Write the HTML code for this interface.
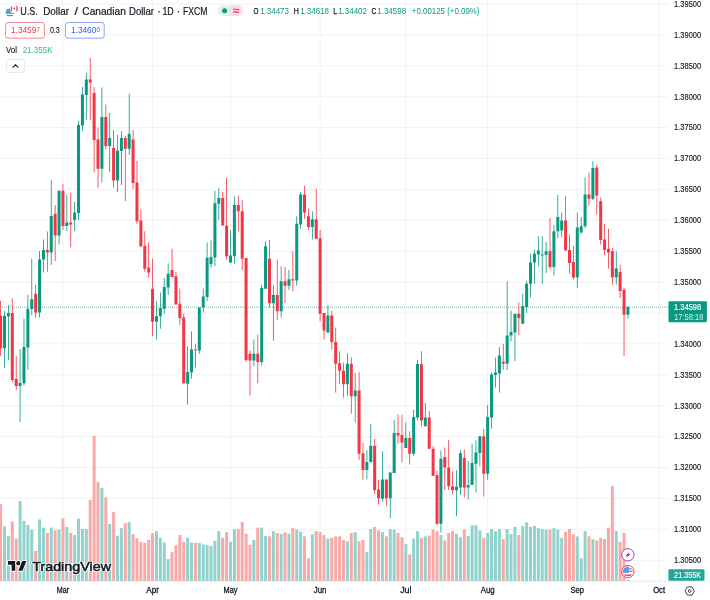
<!DOCTYPE html><html><head><meta charset="utf-8"><title>USDCAD chart</title>
<style>html,body{margin:0;padding:0;background:#fff;overflow:hidden}svg{display:block}text{font-family:"Liberation Sans",Arial,sans-serif}</style></head><body>
<svg width="710" height="600" viewBox="0 0 710 600">
<rect width="710" height="600" fill="#fff"/>
<g stroke="#f2f2f4" stroke-width="1" fill="none">
<line x1="0" y1="4.00" x2="668" y2="4.00"/>
<line x1="0" y1="34.90" x2="668" y2="34.90"/>
<line x1="0" y1="65.80" x2="668" y2="65.80"/>
<line x1="0" y1="96.70" x2="668" y2="96.70"/>
<line x1="0" y1="127.60" x2="668" y2="127.60"/>
<line x1="0" y1="158.50" x2="668" y2="158.50"/>
<line x1="0" y1="189.40" x2="668" y2="189.40"/>
<line x1="0" y1="220.30" x2="668" y2="220.30"/>
<line x1="0" y1="251.20" x2="668" y2="251.20"/>
<line x1="0" y1="282.10" x2="668" y2="282.10"/>
<line x1="0" y1="313.00" x2="668" y2="313.00"/>
<line x1="0" y1="343.90" x2="668" y2="343.90"/>
<line x1="0" y1="374.80" x2="668" y2="374.80"/>
<line x1="0" y1="405.70" x2="668" y2="405.70"/>
<line x1="0" y1="436.60" x2="668" y2="436.60"/>
<line x1="0" y1="467.50" x2="668" y2="467.50"/>
<line x1="0" y1="498.40" x2="668" y2="498.40"/>
<line x1="0" y1="529.30" x2="668" y2="529.30"/>
<line x1="0" y1="560.20" x2="668" y2="560.20"/>
<line x1="62.94" y1="0" x2="62.94" y2="581"/>
<line x1="152.56" y1="0" x2="152.56" y2="581"/>
<line x1="230.49" y1="0" x2="230.49" y2="581"/>
<line x1="320.11" y1="0" x2="320.11" y2="581"/>
<line x1="405.84" y1="0" x2="405.84" y2="581"/>
<line x1="487.66" y1="0" x2="487.66" y2="581"/>
<line x1="577.28" y1="0" x2="577.28" y2="581"/>
<line x1="659.11" y1="0" x2="659.11" y2="581"/>
</g>
<line x1="0" y1="581.2" x2="710" y2="581.2" stroke="#e9eaed" stroke-width="1"/>
<g>
<rect x="-0.90" y="504.20" width="3" height="76.80" fill="#f7a9a7"/>
<rect x="3.00" y="526.40" width="3" height="54.60" fill="#92d2cc"/>
<rect x="6.89" y="536.00" width="3" height="45.00" fill="#92d2cc"/>
<rect x="10.79" y="521.50" width="3" height="59.50" fill="#f7a9a7"/>
<rect x="14.69" y="538.60" width="3" height="42.40" fill="#f7a9a7"/>
<rect x="18.58" y="501.00" width="3" height="80.00" fill="#92d2cc"/>
<rect x="22.48" y="520.80" width="3" height="60.20" fill="#92d2cc"/>
<rect x="26.38" y="525.00" width="3" height="56.00" fill="#92d2cc"/>
<rect x="30.27" y="529.50" width="3" height="51.50" fill="#92d2cc"/>
<rect x="34.17" y="550.90" width="3" height="30.10" fill="#f7a9a7"/>
<rect x="38.07" y="519.40" width="3" height="61.60" fill="#92d2cc"/>
<rect x="41.96" y="527.60" width="3" height="53.40" fill="#92d2cc"/>
<rect x="45.86" y="533.00" width="3" height="48.00" fill="#f7a9a7"/>
<rect x="49.75" y="527.60" width="3" height="53.40" fill="#92d2cc"/>
<rect x="53.65" y="530.40" width="3" height="50.60" fill="#f7a9a7"/>
<rect x="57.55" y="529.50" width="3" height="51.50" fill="#92d2cc"/>
<rect x="61.44" y="518.50" width="3" height="62.50" fill="#f7a9a7"/>
<rect x="65.34" y="526.90" width="3" height="54.10" fill="#92d2cc"/>
<rect x="69.24" y="533.00" width="3" height="48.00" fill="#f7a9a7"/>
<rect x="73.13" y="535.10" width="3" height="45.90" fill="#92d2cc"/>
<rect x="77.03" y="518.50" width="3" height="62.50" fill="#92d2cc"/>
<rect x="80.93" y="529.00" width="3" height="52.00" fill="#92d2cc"/>
<rect x="84.82" y="529.00" width="3" height="52.00" fill="#92d2cc"/>
<rect x="88.72" y="500.10" width="3" height="80.90" fill="#f7a9a7"/>
<rect x="92.62" y="435.80" width="3" height="145.20" fill="#f7a9a7"/>
<rect x="96.51" y="482.20" width="3" height="98.80" fill="#f7a9a7"/>
<rect x="100.41" y="487.90" width="3" height="93.10" fill="#92d2cc"/>
<rect x="104.31" y="497.30" width="3" height="83.70" fill="#f7a9a7"/>
<rect x="108.20" y="524.00" width="3" height="57.00" fill="#92d2cc"/>
<rect x="112.10" y="511.90" width="3" height="69.10" fill="#f7a9a7"/>
<rect x="115.99" y="535.70" width="3" height="45.30" fill="#92d2cc"/>
<rect x="119.89" y="528.10" width="3" height="52.90" fill="#92d2cc"/>
<rect x="123.79" y="523.20" width="3" height="57.80" fill="#f7a9a7"/>
<rect x="127.68" y="522.00" width="3" height="59.00" fill="#92d2cc"/>
<rect x="131.58" y="534.30" width="3" height="46.70" fill="#f7a9a7"/>
<rect x="135.48" y="538.30" width="3" height="42.70" fill="#f7a9a7"/>
<rect x="139.37" y="541.80" width="3" height="39.20" fill="#f7a9a7"/>
<rect x="143.27" y="542.70" width="3" height="38.30" fill="#f7a9a7"/>
<rect x="147.17" y="539.90" width="3" height="41.10" fill="#f7a9a7"/>
<rect x="151.06" y="533.00" width="3" height="48.00" fill="#f7a9a7"/>
<rect x="154.96" y="531.10" width="3" height="49.90" fill="#92d2cc"/>
<rect x="158.86" y="537.80" width="3" height="43.20" fill="#92d2cc"/>
<rect x="162.75" y="542.50" width="3" height="38.50" fill="#92d2cc"/>
<rect x="166.65" y="559.10" width="3" height="21.90" fill="#92d2cc"/>
<rect x="170.55" y="552.10" width="3" height="28.90" fill="#f7a9a7"/>
<rect x="174.44" y="545.30" width="3" height="35.70" fill="#f7a9a7"/>
<rect x="178.34" y="535.10" width="3" height="45.90" fill="#f7a9a7"/>
<rect x="182.24" y="541.80" width="3" height="39.20" fill="#f7a9a7"/>
<rect x="186.13" y="537.80" width="3" height="43.20" fill="#92d2cc"/>
<rect x="190.03" y="542.50" width="3" height="38.50" fill="#92d2cc"/>
<rect x="193.93" y="542.50" width="3" height="38.50" fill="#f7a9a7"/>
<rect x="197.82" y="543.00" width="3" height="38.00" fill="#92d2cc"/>
<rect x="201.72" y="544.40" width="3" height="36.60" fill="#92d2cc"/>
<rect x="205.61" y="545.10" width="3" height="35.90" fill="#92d2cc"/>
<rect x="209.51" y="546.00" width="3" height="35.00" fill="#92d2cc"/>
<rect x="213.41" y="540.90" width="3" height="40.10" fill="#92d2cc"/>
<rect x="217.30" y="531.10" width="3" height="49.90" fill="#92d2cc"/>
<rect x="221.20" y="537.80" width="3" height="43.20" fill="#f7a9a7"/>
<rect x="225.10" y="532.20" width="3" height="48.80" fill="#f7a9a7"/>
<rect x="228.99" y="541.80" width="3" height="39.20" fill="#92d2cc"/>
<rect x="232.89" y="529.50" width="3" height="51.50" fill="#92d2cc"/>
<rect x="236.79" y="529.00" width="3" height="52.00" fill="#f7a9a7"/>
<rect x="240.68" y="522.00" width="3" height="59.00" fill="#f7a9a7"/>
<rect x="244.58" y="533.70" width="3" height="47.30" fill="#f7a9a7"/>
<rect x="248.48" y="544.80" width="3" height="36.20" fill="#f7a9a7"/>
<rect x="252.37" y="540.00" width="3" height="41.00" fill="#92d2cc"/>
<rect x="256.27" y="527.60" width="3" height="53.40" fill="#f7a9a7"/>
<rect x="260.17" y="527.60" width="3" height="53.40" fill="#92d2cc"/>
<rect x="264.06" y="536.00" width="3" height="45.00" fill="#92d2cc"/>
<rect x="267.96" y="536.40" width="3" height="44.60" fill="#f7a9a7"/>
<rect x="271.86" y="531.10" width="3" height="49.90" fill="#92d2cc"/>
<rect x="275.75" y="533.00" width="3" height="48.00" fill="#f7a9a7"/>
<rect x="279.65" y="533.90" width="3" height="47.10" fill="#92d2cc"/>
<rect x="283.54" y="532.20" width="3" height="48.80" fill="#f7a9a7"/>
<rect x="287.44" y="533.70" width="3" height="47.30" fill="#92d2cc"/>
<rect x="291.34" y="528.10" width="3" height="52.90" fill="#f7a9a7"/>
<rect x="295.23" y="529.50" width="3" height="51.50" fill="#92d2cc"/>
<rect x="299.13" y="531.60" width="3" height="49.40" fill="#92d2cc"/>
<rect x="303.03" y="536.40" width="3" height="44.60" fill="#f7a9a7"/>
<rect x="306.92" y="558.30" width="3" height="22.70" fill="#f7a9a7"/>
<rect x="310.82" y="534.30" width="3" height="46.70" fill="#92d2cc"/>
<rect x="314.72" y="531.10" width="3" height="49.90" fill="#f7a9a7"/>
<rect x="318.61" y="532.00" width="3" height="49.00" fill="#f7a9a7"/>
<rect x="322.51" y="535.10" width="3" height="45.90" fill="#f7a9a7"/>
<rect x="326.41" y="538.60" width="3" height="42.40" fill="#92d2cc"/>
<rect x="330.30" y="537.80" width="3" height="43.20" fill="#f7a9a7"/>
<rect x="334.20" y="536.40" width="3" height="44.60" fill="#f7a9a7"/>
<rect x="338.10" y="536.40" width="3" height="44.60" fill="#f7a9a7"/>
<rect x="341.99" y="540.00" width="3" height="41.00" fill="#f7a9a7"/>
<rect x="345.89" y="541.30" width="3" height="39.70" fill="#92d2cc"/>
<rect x="349.79" y="533.00" width="3" height="48.00" fill="#f7a9a7"/>
<rect x="353.68" y="532.20" width="3" height="48.80" fill="#92d2cc"/>
<rect x="357.58" y="541.30" width="3" height="39.70" fill="#f7a9a7"/>
<rect x="361.47" y="540.00" width="3" height="41.00" fill="#f7a9a7"/>
<rect x="365.37" y="552.10" width="3" height="28.90" fill="#92d2cc"/>
<rect x="369.27" y="529.00" width="3" height="52.00" fill="#92d2cc"/>
<rect x="373.16" y="526.90" width="3" height="54.10" fill="#f7a9a7"/>
<rect x="377.06" y="530.40" width="3" height="50.60" fill="#f7a9a7"/>
<rect x="380.96" y="532.20" width="3" height="48.80" fill="#92d2cc"/>
<rect x="384.85" y="536.40" width="3" height="44.60" fill="#f7a9a7"/>
<rect x="388.75" y="529.00" width="3" height="52.00" fill="#92d2cc"/>
<rect x="392.65" y="529.50" width="3" height="51.50" fill="#92d2cc"/>
<rect x="396.54" y="533.00" width="3" height="48.00" fill="#f7a9a7"/>
<rect x="400.44" y="537.20" width="3" height="43.80" fill="#f7a9a7"/>
<rect x="404.34" y="544.20" width="3" height="36.80" fill="#92d2cc"/>
<rect x="408.23" y="554.40" width="3" height="26.60" fill="#f7a9a7"/>
<rect x="412.13" y="538.60" width="3" height="42.40" fill="#92d2cc"/>
<rect x="416.03" y="531.10" width="3" height="49.90" fill="#92d2cc"/>
<rect x="419.92" y="538.10" width="3" height="42.90" fill="#f7a9a7"/>
<rect x="423.82" y="536.40" width="3" height="44.60" fill="#92d2cc"/>
<rect x="427.72" y="535.70" width="3" height="45.30" fill="#f7a9a7"/>
<rect x="431.61" y="529.50" width="3" height="51.50" fill="#f7a9a7"/>
<rect x="435.51" y="531.10" width="3" height="49.90" fill="#f7a9a7"/>
<rect x="439.40" y="535.10" width="3" height="45.90" fill="#92d2cc"/>
<rect x="443.30" y="540.40" width="3" height="40.60" fill="#f7a9a7"/>
<rect x="447.20" y="533.00" width="3" height="48.00" fill="#f7a9a7"/>
<rect x="451.09" y="531.10" width="3" height="49.90" fill="#f7a9a7"/>
<rect x="454.99" y="533.90" width="3" height="47.10" fill="#92d2cc"/>
<rect x="458.89" y="537.20" width="3" height="43.80" fill="#92d2cc"/>
<rect x="462.78" y="529.50" width="3" height="51.50" fill="#f7a9a7"/>
<rect x="466.68" y="536.00" width="3" height="45.00" fill="#92d2cc"/>
<rect x="470.58" y="525.20" width="3" height="55.80" fill="#92d2cc"/>
<rect x="474.47" y="525.20" width="3" height="55.80" fill="#92d2cc"/>
<rect x="478.37" y="530.40" width="3" height="50.60" fill="#92d2cc"/>
<rect x="482.27" y="537.80" width="3" height="43.20" fill="#f7a9a7"/>
<rect x="486.16" y="533.00" width="3" height="48.00" fill="#92d2cc"/>
<rect x="490.06" y="529.00" width="3" height="52.00" fill="#92d2cc"/>
<rect x="493.96" y="531.10" width="3" height="49.90" fill="#92d2cc"/>
<rect x="497.85" y="529.00" width="3" height="52.00" fill="#92d2cc"/>
<rect x="501.75" y="539.20" width="3" height="41.80" fill="#f7a9a7"/>
<rect x="505.65" y="529.00" width="3" height="52.00" fill="#92d2cc"/>
<rect x="509.54" y="533.90" width="3" height="47.10" fill="#92d2cc"/>
<rect x="513.44" y="526.90" width="3" height="54.10" fill="#92d2cc"/>
<rect x="517.33" y="535.10" width="3" height="45.90" fill="#f7a9a7"/>
<rect x="521.23" y="526.00" width="3" height="55.00" fill="#92d2cc"/>
<rect x="525.13" y="522.50" width="3" height="58.50" fill="#92d2cc"/>
<rect x="529.02" y="526.90" width="3" height="54.10" fill="#92d2cc"/>
<rect x="532.92" y="526.00" width="3" height="55.00" fill="#92d2cc"/>
<rect x="536.82" y="528.10" width="3" height="52.90" fill="#92d2cc"/>
<rect x="540.71" y="529.00" width="3" height="52.00" fill="#92d2cc"/>
<rect x="544.61" y="529.50" width="3" height="51.50" fill="#92d2cc"/>
<rect x="548.51" y="529.50" width="3" height="51.50" fill="#f7a9a7"/>
<rect x="552.40" y="528.10" width="3" height="52.90" fill="#92d2cc"/>
<rect x="556.30" y="529.50" width="3" height="51.50" fill="#92d2cc"/>
<rect x="560.20" y="537.80" width="3" height="43.20" fill="#92d2cc"/>
<rect x="564.09" y="531.60" width="3" height="49.40" fill="#f7a9a7"/>
<rect x="567.99" y="529.00" width="3" height="52.00" fill="#f7a9a7"/>
<rect x="571.89" y="534.30" width="3" height="46.70" fill="#f7a9a7"/>
<rect x="575.78" y="536.40" width="3" height="44.60" fill="#92d2cc"/>
<rect x="579.68" y="558.30" width="3" height="22.70" fill="#92d2cc"/>
<rect x="583.58" y="531.10" width="3" height="49.90" fill="#92d2cc"/>
<rect x="587.47" y="536.40" width="3" height="44.60" fill="#f7a9a7"/>
<rect x="591.37" y="539.20" width="3" height="41.80" fill="#92d2cc"/>
<rect x="595.26" y="540.40" width="3" height="40.60" fill="#f7a9a7"/>
<rect x="599.16" y="537.80" width="3" height="43.20" fill="#f7a9a7"/>
<rect x="603.06" y="539.00" width="3" height="42.00" fill="#f7a9a7"/>
<rect x="606.95" y="527.60" width="3" height="53.40" fill="#f7a9a7"/>
<rect x="610.85" y="486.10" width="3" height="94.90" fill="#f7a9a7"/>
<rect x="614.75" y="531.10" width="3" height="49.90" fill="#92d2cc"/>
<rect x="618.64" y="541.80" width="3" height="39.20" fill="#f7a9a7"/>
<rect x="622.54" y="533.00" width="3" height="48.00" fill="#f7a9a7"/>
<rect x="626.44" y="579.80" width="3" height="1.20" fill="#92d2cc"/>
</g>
<line x1="0" y1="307.2" x2="668.5" y2="307.2" stroke="#089981" stroke-width="0.9" stroke-dasharray="0.7 1.3"/>
<g>
<rect x="0.20" y="300.80" width="0.8" height="55.00" fill="#f23645"/>
<rect x="-0.90" y="315.80" width="3" height="32.50" fill="#f23645"/>
<rect x="4.10" y="311.00" width="0.8" height="57.00" fill="#089981"/>
<rect x="3.00" y="315.80" width="3" height="32.50" fill="#089981"/>
<rect x="7.99" y="305.00" width="0.8" height="55.00" fill="#089981"/>
<rect x="6.89" y="313.00" width="3" height="3.30" fill="#089981"/>
<rect x="11.89" y="298.30" width="0.8" height="83.50" fill="#f23645"/>
<rect x="10.79" y="313.00" width="3" height="67.00" fill="#f23645"/>
<rect x="15.79" y="356.00" width="0.8" height="34.00" fill="#f23645"/>
<rect x="14.69" y="379.00" width="3" height="7.00" fill="#f23645"/>
<rect x="19.68" y="349.00" width="0.8" height="73.00" fill="#089981"/>
<rect x="18.58" y="383.00" width="3" height="3.00" fill="#089981"/>
<rect x="23.58" y="318.80" width="0.8" height="66.50" fill="#089981"/>
<rect x="22.48" y="347.00" width="3" height="36.30" fill="#089981"/>
<rect x="27.48" y="294.80" width="0.8" height="75.00" fill="#089981"/>
<rect x="26.38" y="309.00" width="3" height="38.50" fill="#089981"/>
<rect x="31.37" y="258.75" width="0.8" height="56.25" fill="#089981"/>
<rect x="30.27" y="299.30" width="3" height="9.70" fill="#089981"/>
<rect x="35.27" y="285.00" width="0.8" height="32.50" fill="#f23645"/>
<rect x="34.17" y="293.75" width="3" height="18.75" fill="#f23645"/>
<rect x="39.17" y="251.00" width="0.8" height="66.50" fill="#089981"/>
<rect x="38.07" y="259.50" width="3" height="53.00" fill="#089981"/>
<rect x="43.06" y="239.50" width="0.8" height="33.00" fill="#089981"/>
<rect x="41.96" y="250.00" width="3" height="9.50" fill="#089981"/>
<rect x="46.96" y="231.50" width="0.8" height="40.20" fill="#f23645"/>
<rect x="45.86" y="250.00" width="3" height="2.50" fill="#f23645"/>
<rect x="50.85" y="180.00" width="0.8" height="85.00" fill="#089981"/>
<rect x="49.75" y="216.00" width="3" height="36.50" fill="#089981"/>
<rect x="54.75" y="205.00" width="0.8" height="56.00" fill="#f23645"/>
<rect x="53.65" y="213.75" width="3" height="21.75" fill="#f23645"/>
<rect x="58.65" y="190.50" width="0.8" height="54.00" fill="#089981"/>
<rect x="57.55" y="190.75" width="3" height="44.75" fill="#089981"/>
<rect x="62.54" y="183.75" width="0.8" height="46.25" fill="#f23645"/>
<rect x="61.44" y="190.75" width="3" height="35.25" fill="#f23645"/>
<rect x="66.44" y="195.00" width="0.8" height="36.00" fill="#089981"/>
<rect x="65.34" y="222.50" width="3" height="3.50" fill="#089981"/>
<rect x="70.34" y="192.50" width="0.8" height="55.00" fill="#f23645"/>
<rect x="69.24" y="222.50" width="3" height="2.00" fill="#f23645"/>
<rect x="74.23" y="202.00" width="0.8" height="29.00" fill="#089981"/>
<rect x="73.13" y="212.50" width="3" height="7.50" fill="#089981"/>
<rect x="78.13" y="120.75" width="0.8" height="99.25" fill="#089981"/>
<rect x="77.03" y="125.00" width="3" height="88.00" fill="#089981"/>
<rect x="82.03" y="87.00" width="0.8" height="44.00" fill="#089981"/>
<rect x="80.93" y="94.50" width="3" height="31.00" fill="#089981"/>
<rect x="85.92" y="73.00" width="0.8" height="47.00" fill="#089981"/>
<rect x="84.82" y="79.50" width="3" height="15.50" fill="#089981"/>
<rect x="89.82" y="58.00" width="0.8" height="62.00" fill="#f23645"/>
<rect x="88.72" y="79.50" width="3" height="3.00" fill="#f23645"/>
<rect x="93.72" y="87.00" width="0.8" height="85.50" fill="#f23645"/>
<rect x="92.62" y="93.00" width="3" height="47.00" fill="#f23645"/>
<rect x="97.61" y="127.50" width="0.8" height="60.50" fill="#f23645"/>
<rect x="96.51" y="139.50" width="3" height="29.25" fill="#f23645"/>
<rect x="101.51" y="87.50" width="0.8" height="95.00" fill="#089981"/>
<rect x="100.41" y="117.00" width="3" height="51.75" fill="#089981"/>
<rect x="105.41" y="104.50" width="0.8" height="45.00" fill="#f23645"/>
<rect x="104.31" y="117.00" width="3" height="29.00" fill="#f23645"/>
<rect x="109.30" y="113.00" width="0.8" height="59.00" fill="#089981"/>
<rect x="108.20" y="138.00" width="3" height="8.00" fill="#089981"/>
<rect x="113.20" y="130.00" width="0.8" height="57.50" fill="#f23645"/>
<rect x="112.10" y="148.00" width="3" height="32.50" fill="#f23645"/>
<rect x="117.09" y="135.00" width="0.8" height="57.00" fill="#089981"/>
<rect x="115.99" y="150.75" width="3" height="29.75" fill="#089981"/>
<rect x="120.99" y="131.00" width="0.8" height="54.00" fill="#089981"/>
<rect x="119.89" y="138.00" width="3" height="13.00" fill="#089981"/>
<rect x="124.89" y="136.00" width="0.8" height="65.25" fill="#f23645"/>
<rect x="123.79" y="138.00" width="3" height="10.75" fill="#f23645"/>
<rect x="128.78" y="93.75" width="0.8" height="61.25" fill="#089981"/>
<rect x="127.68" y="133.75" width="3" height="15.00" fill="#089981"/>
<rect x="132.68" y="130.00" width="0.8" height="58.75" fill="#f23645"/>
<rect x="131.58" y="139.50" width="3" height="43.50" fill="#f23645"/>
<rect x="136.58" y="161.00" width="0.8" height="62.75" fill="#f23645"/>
<rect x="135.48" y="182.50" width="3" height="38.75" fill="#f23645"/>
<rect x="140.47" y="209.50" width="0.8" height="38.00" fill="#f23645"/>
<rect x="139.37" y="220.50" width="3" height="25.75" fill="#f23645"/>
<rect x="144.37" y="231.25" width="0.8" height="40.50" fill="#f23645"/>
<rect x="143.27" y="245.75" width="3" height="23.00" fill="#f23645"/>
<rect x="148.27" y="242.50" width="0.8" height="35.00" fill="#f23645"/>
<rect x="147.17" y="267.50" width="3" height="5.00" fill="#f23645"/>
<rect x="152.16" y="258.75" width="0.8" height="77.50" fill="#f23645"/>
<rect x="151.06" y="288.75" width="3" height="33.00" fill="#f23645"/>
<rect x="156.06" y="301.25" width="0.8" height="38.25" fill="#089981"/>
<rect x="154.96" y="316.25" width="3" height="5.50" fill="#089981"/>
<rect x="159.96" y="292.50" width="0.8" height="36.25" fill="#089981"/>
<rect x="158.86" y="308.00" width="3" height="8.25" fill="#089981"/>
<rect x="163.85" y="278.00" width="0.8" height="35.75" fill="#089981"/>
<rect x="162.75" y="287.00" width="3" height="21.75" fill="#089981"/>
<rect x="167.75" y="263.25" width="0.8" height="31.75" fill="#089981"/>
<rect x="166.65" y="273.75" width="3" height="13.75" fill="#089981"/>
<rect x="171.65" y="248.75" width="0.8" height="28.25" fill="#f23645"/>
<rect x="170.55" y="270.00" width="3" height="7.00" fill="#f23645"/>
<rect x="175.54" y="272.00" width="0.8" height="32.50" fill="#f23645"/>
<rect x="174.44" y="276.25" width="3" height="28.25" fill="#f23645"/>
<rect x="179.44" y="288.50" width="0.8" height="36.50" fill="#f23645"/>
<rect x="178.34" y="303.75" width="3" height="14.25" fill="#f23645"/>
<rect x="183.34" y="313.75" width="0.8" height="70.00" fill="#f23645"/>
<rect x="182.24" y="317.50" width="3" height="65.75" fill="#f23645"/>
<rect x="187.23" y="346.25" width="0.8" height="58.25" fill="#089981"/>
<rect x="186.13" y="372.00" width="3" height="11.75" fill="#089981"/>
<rect x="191.13" y="331.25" width="0.8" height="47.50" fill="#089981"/>
<rect x="190.03" y="349.50" width="3" height="23.00" fill="#089981"/>
<rect x="195.03" y="343.75" width="0.8" height="23.75" fill="#f23645"/>
<rect x="193.93" y="349.50" width="3" height="1.00" fill="#f23645"/>
<rect x="198.92" y="307.50" width="0.8" height="46.25" fill="#089981"/>
<rect x="197.82" y="307.50" width="3" height="43.00" fill="#089981"/>
<rect x="202.82" y="288.50" width="0.8" height="24.00" fill="#089981"/>
<rect x="201.72" y="296.50" width="3" height="11.00" fill="#089981"/>
<rect x="206.71" y="242.50" width="0.8" height="58.75" fill="#089981"/>
<rect x="205.61" y="257.75" width="3" height="39.25" fill="#089981"/>
<rect x="210.61" y="240.50" width="0.8" height="27.00" fill="#089981"/>
<rect x="209.51" y="257.00" width="3" height="7.00" fill="#089981"/>
<rect x="214.51" y="190.75" width="0.8" height="75.50" fill="#089981"/>
<rect x="213.41" y="203.25" width="3" height="54.25" fill="#089981"/>
<rect x="218.40" y="188.25" width="0.8" height="31.75" fill="#089981"/>
<rect x="217.30" y="198.00" width="3" height="5.75" fill="#089981"/>
<rect x="222.30" y="192.00" width="0.8" height="33.50" fill="#f23645"/>
<rect x="221.20" y="198.00" width="3" height="27.50" fill="#f23645"/>
<rect x="226.20" y="178.00" width="0.8" height="81.50" fill="#f23645"/>
<rect x="225.10" y="225.50" width="3" height="30.75" fill="#f23645"/>
<rect x="230.09" y="230.00" width="0.8" height="33.00" fill="#089981"/>
<rect x="228.99" y="255.50" width="3" height="7.00" fill="#089981"/>
<rect x="233.99" y="196.25" width="0.8" height="67.50" fill="#089981"/>
<rect x="232.89" y="205.00" width="3" height="51.25" fill="#089981"/>
<rect x="237.89" y="195.50" width="0.8" height="35.75" fill="#f23645"/>
<rect x="236.79" y="205.00" width="3" height="6.25" fill="#f23645"/>
<rect x="241.78" y="200.00" width="0.8" height="70.00" fill="#f23645"/>
<rect x="240.68" y="211.25" width="3" height="47.50" fill="#f23645"/>
<rect x="245.68" y="258.00" width="0.8" height="104.00" fill="#f23645"/>
<rect x="244.58" y="258.00" width="3" height="102.00" fill="#f23645"/>
<rect x="249.58" y="350.50" width="0.8" height="45.00" fill="#f23645"/>
<rect x="248.48" y="353.75" width="3" height="6.75" fill="#f23645"/>
<rect x="253.47" y="339.50" width="0.8" height="26.75" fill="#089981"/>
<rect x="252.37" y="353.75" width="3" height="6.75" fill="#089981"/>
<rect x="257.37" y="334.50" width="0.8" height="48.75" fill="#f23645"/>
<rect x="256.27" y="353.75" width="3" height="8.25" fill="#f23645"/>
<rect x="261.27" y="284.75" width="0.8" height="80.75" fill="#089981"/>
<rect x="260.17" y="288.00" width="3" height="74.00" fill="#089981"/>
<rect x="265.16" y="241.25" width="0.8" height="47.50" fill="#089981"/>
<rect x="264.06" y="246.25" width="3" height="42.50" fill="#089981"/>
<rect x="269.06" y="240.00" width="0.8" height="67.50" fill="#f23645"/>
<rect x="267.96" y="258.75" width="3" height="44.50" fill="#f23645"/>
<rect x="272.96" y="285.50" width="0.8" height="55.25" fill="#089981"/>
<rect x="271.86" y="295.00" width="3" height="8.25" fill="#089981"/>
<rect x="276.85" y="259.50" width="0.8" height="60.50" fill="#f23645"/>
<rect x="275.75" y="295.00" width="3" height="16.25" fill="#f23645"/>
<rect x="280.75" y="266.25" width="0.8" height="51.25" fill="#089981"/>
<rect x="279.65" y="281.25" width="3" height="30.00" fill="#089981"/>
<rect x="284.64" y="267.00" width="0.8" height="36.00" fill="#f23645"/>
<rect x="283.54" y="281.25" width="3" height="4.50" fill="#f23645"/>
<rect x="288.54" y="270.00" width="0.8" height="20.00" fill="#089981"/>
<rect x="287.44" y="279.25" width="3" height="6.50" fill="#089981"/>
<rect x="292.44" y="251.25" width="0.8" height="40.00" fill="#f23645"/>
<rect x="291.34" y="279.25" width="3" height="1.25" fill="#f23645"/>
<rect x="296.33" y="216.25" width="0.8" height="69.25" fill="#089981"/>
<rect x="295.23" y="223.75" width="3" height="56.75" fill="#089981"/>
<rect x="300.23" y="192.00" width="0.8" height="36.75" fill="#089981"/>
<rect x="299.13" y="194.50" width="3" height="30.00" fill="#089981"/>
<rect x="304.13" y="185.75" width="0.8" height="33.00" fill="#f23645"/>
<rect x="303.03" y="194.50" width="3" height="18.00" fill="#f23645"/>
<rect x="308.02" y="208.75" width="0.8" height="21.25" fill="#f23645"/>
<rect x="306.92" y="216.25" width="3" height="10.75" fill="#f23645"/>
<rect x="311.92" y="211.25" width="0.8" height="28.25" fill="#089981"/>
<rect x="310.82" y="219.25" width="3" height="7.75" fill="#089981"/>
<rect x="315.82" y="188.75" width="0.8" height="50.00" fill="#f23645"/>
<rect x="314.72" y="219.25" width="3" height="19.50" fill="#f23645"/>
<rect x="319.71" y="230.00" width="0.8" height="91.25" fill="#f23645"/>
<rect x="318.61" y="238.25" width="3" height="75.50" fill="#f23645"/>
<rect x="323.61" y="313.00" width="0.8" height="26.50" fill="#f23645"/>
<rect x="322.51" y="313.00" width="3" height="17.50" fill="#f23645"/>
<rect x="327.51" y="305.00" width="0.8" height="27.50" fill="#089981"/>
<rect x="326.41" y="315.50" width="3" height="17.00" fill="#089981"/>
<rect x="331.40" y="311.00" width="0.8" height="38.50" fill="#f23645"/>
<rect x="330.30" y="315.50" width="3" height="26.50" fill="#f23645"/>
<rect x="335.30" y="327.50" width="0.8" height="65.00" fill="#f23645"/>
<rect x="334.20" y="342.00" width="3" height="21.75" fill="#f23645"/>
<rect x="339.20" y="351.25" width="0.8" height="32.50" fill="#f23645"/>
<rect x="338.10" y="363.25" width="3" height="7.50" fill="#f23645"/>
<rect x="343.09" y="362.50" width="0.8" height="35.00" fill="#f23645"/>
<rect x="341.99" y="370.75" width="3" height="13.50" fill="#f23645"/>
<rect x="346.99" y="353.25" width="0.8" height="42.50" fill="#089981"/>
<rect x="345.89" y="363.75" width="3" height="20.50" fill="#089981"/>
<rect x="350.89" y="357.50" width="0.8" height="56.25" fill="#f23645"/>
<rect x="349.79" y="363.75" width="3" height="32.50" fill="#f23645"/>
<rect x="354.78" y="373.00" width="0.8" height="49.50" fill="#089981"/>
<rect x="353.68" y="390.50" width="3" height="5.75" fill="#089981"/>
<rect x="358.68" y="372.00" width="0.8" height="88.00" fill="#f23645"/>
<rect x="357.58" y="390.50" width="3" height="63.25" fill="#f23645"/>
<rect x="362.57" y="443.00" width="0.8" height="37.00" fill="#f23645"/>
<rect x="361.47" y="453.25" width="3" height="16.75" fill="#f23645"/>
<rect x="366.47" y="450.00" width="0.8" height="29.50" fill="#089981"/>
<rect x="365.37" y="462.00" width="3" height="8.00" fill="#089981"/>
<rect x="370.37" y="423.75" width="0.8" height="38.75" fill="#089981"/>
<rect x="369.27" y="445.75" width="3" height="16.25" fill="#089981"/>
<rect x="374.26" y="438.75" width="0.8" height="55.00" fill="#f23645"/>
<rect x="373.16" y="445.75" width="3" height="44.25" fill="#f23645"/>
<rect x="378.16" y="480.00" width="0.8" height="24.50" fill="#f23645"/>
<rect x="377.06" y="489.50" width="3" height="8.75" fill="#f23645"/>
<rect x="382.06" y="451.25" width="0.8" height="50.75" fill="#089981"/>
<rect x="380.96" y="479.50" width="3" height="19.25" fill="#089981"/>
<rect x="385.95" y="479.50" width="0.8" height="26.75" fill="#f23645"/>
<rect x="384.85" y="479.50" width="3" height="18.75" fill="#f23645"/>
<rect x="389.85" y="472.50" width="0.8" height="45.75" fill="#089981"/>
<rect x="388.75" y="472.50" width="3" height="25.75" fill="#089981"/>
<rect x="393.75" y="420.00" width="0.8" height="53.00" fill="#089981"/>
<rect x="392.65" y="433.00" width="3" height="40.00" fill="#089981"/>
<rect x="397.64" y="414.50" width="0.8" height="29.00" fill="#f23645"/>
<rect x="396.54" y="433.00" width="3" height="2.50" fill="#f23645"/>
<rect x="401.54" y="414.75" width="0.8" height="47.75" fill="#f23645"/>
<rect x="400.44" y="435.00" width="3" height="7.50" fill="#f23645"/>
<rect x="405.44" y="422.25" width="0.8" height="25.75" fill="#089981"/>
<rect x="404.34" y="438.00" width="3" height="10.00" fill="#089981"/>
<rect x="409.33" y="431.25" width="0.8" height="33.25" fill="#f23645"/>
<rect x="408.23" y="438.00" width="3" height="15.75" fill="#f23645"/>
<rect x="413.23" y="409.75" width="0.8" height="46.25" fill="#089981"/>
<rect x="412.13" y="417.00" width="3" height="36.75" fill="#089981"/>
<rect x="417.13" y="360.00" width="0.8" height="60.50" fill="#089981"/>
<rect x="416.03" y="364.00" width="3" height="53.50" fill="#089981"/>
<rect x="421.02" y="351.25" width="0.8" height="75.00" fill="#f23645"/>
<rect x="419.92" y="364.25" width="3" height="56.25" fill="#f23645"/>
<rect x="424.92" y="403.00" width="0.8" height="23.25" fill="#089981"/>
<rect x="423.82" y="417.50" width="3" height="8.75" fill="#089981"/>
<rect x="428.82" y="411.25" width="0.8" height="37.50" fill="#f23645"/>
<rect x="427.72" y="417.50" width="3" height="31.25" fill="#f23645"/>
<rect x="432.71" y="446.00" width="0.8" height="29.75" fill="#f23645"/>
<rect x="431.61" y="448.75" width="3" height="27.00" fill="#f23645"/>
<rect x="436.61" y="471.00" width="0.8" height="54.00" fill="#f23645"/>
<rect x="435.51" y="475.00" width="3" height="48.75" fill="#f23645"/>
<rect x="440.50" y="450.50" width="0.8" height="82.00" fill="#089981"/>
<rect x="439.40" y="458.75" width="3" height="65.00" fill="#089981"/>
<rect x="444.40" y="447.50" width="0.8" height="42.50" fill="#f23645"/>
<rect x="443.30" y="457.00" width="3" height="10.50" fill="#f23645"/>
<rect x="448.30" y="440.00" width="0.8" height="50.00" fill="#f23645"/>
<rect x="447.20" y="467.50" width="3" height="18.75" fill="#f23645"/>
<rect x="452.19" y="471.25" width="0.8" height="23.00" fill="#f23645"/>
<rect x="451.09" y="486.25" width="3" height="4.00" fill="#f23645"/>
<rect x="456.09" y="470.25" width="0.8" height="46.00" fill="#089981"/>
<rect x="454.99" y="486.75" width="3" height="3.50" fill="#089981"/>
<rect x="459.99" y="450.00" width="0.8" height="45.00" fill="#089981"/>
<rect x="458.89" y="453.25" width="3" height="34.25" fill="#089981"/>
<rect x="463.88" y="449.50" width="0.8" height="48.00" fill="#f23645"/>
<rect x="462.78" y="458.00" width="3" height="29.50" fill="#f23645"/>
<rect x="467.78" y="461.25" width="0.8" height="38.25" fill="#089981"/>
<rect x="466.68" y="485.00" width="3" height="2.50" fill="#089981"/>
<rect x="471.68" y="443.75" width="0.8" height="41.25" fill="#089981"/>
<rect x="470.58" y="463.00" width="3" height="22.00" fill="#089981"/>
<rect x="475.57" y="440.25" width="0.8" height="52.25" fill="#089981"/>
<rect x="474.47" y="452.50" width="3" height="11.25" fill="#089981"/>
<rect x="479.47" y="436.25" width="0.8" height="30.00" fill="#089981"/>
<rect x="478.37" y="436.25" width="3" height="16.75" fill="#089981"/>
<rect x="483.37" y="428.75" width="0.8" height="67.75" fill="#f23645"/>
<rect x="482.27" y="436.25" width="3" height="37.50" fill="#f23645"/>
<rect x="487.26" y="405.00" width="0.8" height="74.75" fill="#089981"/>
<rect x="486.16" y="417.00" width="3" height="56.75" fill="#089981"/>
<rect x="491.16" y="372.50" width="0.8" height="56.25" fill="#089981"/>
<rect x="490.06" y="374.50" width="3" height="43.00" fill="#089981"/>
<rect x="495.06" y="357.50" width="0.8" height="30.00" fill="#089981"/>
<rect x="493.96" y="372.50" width="3" height="2.50" fill="#089981"/>
<rect x="498.95" y="347.00" width="0.8" height="45.50" fill="#089981"/>
<rect x="497.85" y="355.50" width="3" height="18.00" fill="#089981"/>
<rect x="502.85" y="343.75" width="0.8" height="26.25" fill="#f23645"/>
<rect x="501.75" y="361.75" width="3" height="2.00" fill="#f23645"/>
<rect x="506.75" y="281.25" width="0.8" height="88.75" fill="#089981"/>
<rect x="505.65" y="335.50" width="3" height="28.25" fill="#089981"/>
<rect x="510.64" y="310.75" width="0.8" height="30.50" fill="#089981"/>
<rect x="509.54" y="332.00" width="3" height="3.50" fill="#089981"/>
<rect x="514.54" y="313.75" width="0.8" height="47.50" fill="#089981"/>
<rect x="513.44" y="313.75" width="3" height="18.75" fill="#089981"/>
<rect x="518.43" y="302.50" width="0.8" height="32.50" fill="#f23645"/>
<rect x="517.33" y="313.75" width="3" height="4.25" fill="#f23645"/>
<rect x="522.33" y="293.75" width="0.8" height="30.00" fill="#089981"/>
<rect x="521.23" y="306.25" width="3" height="17.50" fill="#089981"/>
<rect x="526.23" y="281.25" width="0.8" height="31.75" fill="#089981"/>
<rect x="525.13" y="283.75" width="3" height="23.25" fill="#089981"/>
<rect x="530.12" y="253.75" width="0.8" height="43.75" fill="#089981"/>
<rect x="529.02" y="262.50" width="3" height="21.25" fill="#089981"/>
<rect x="534.02" y="249.50" width="0.8" height="34.25" fill="#089981"/>
<rect x="532.92" y="253.75" width="3" height="8.75" fill="#089981"/>
<rect x="537.92" y="236.25" width="0.8" height="30.25" fill="#089981"/>
<rect x="536.82" y="250.50" width="3" height="4.00" fill="#089981"/>
<rect x="541.81" y="236.25" width="0.8" height="47.50" fill="#089981"/>
<rect x="540.71" y="254.50" width="3" height="1.00" fill="#089981"/>
<rect x="545.71" y="242.00" width="0.8" height="31.00" fill="#089981"/>
<rect x="544.61" y="251.25" width="3" height="3.50" fill="#089981"/>
<rect x="549.61" y="218.00" width="0.8" height="51.00" fill="#f23645"/>
<rect x="548.51" y="251.25" width="3" height="15.75" fill="#f23645"/>
<rect x="553.50" y="225.00" width="0.8" height="50.50" fill="#089981"/>
<rect x="552.40" y="231.25" width="3" height="35.75" fill="#089981"/>
<rect x="557.40" y="195.00" width="0.8" height="43.00" fill="#089981"/>
<rect x="556.30" y="217.00" width="3" height="14.25" fill="#089981"/>
<rect x="561.30" y="212.50" width="0.8" height="25.00" fill="#089981"/>
<rect x="560.20" y="220.50" width="3" height="10.00" fill="#089981"/>
<rect x="565.19" y="196.25" width="0.8" height="54.25" fill="#f23645"/>
<rect x="564.09" y="220.50" width="3" height="30.00" fill="#f23645"/>
<rect x="569.09" y="234.50" width="0.8" height="39.25" fill="#f23645"/>
<rect x="567.99" y="250.00" width="3" height="13.00" fill="#f23645"/>
<rect x="572.99" y="246.00" width="0.8" height="33.50" fill="#f23645"/>
<rect x="571.89" y="262.00" width="3" height="15.50" fill="#f23645"/>
<rect x="576.88" y="212.50" width="0.8" height="75.50" fill="#089981"/>
<rect x="575.78" y="227.50" width="3" height="50.00" fill="#089981"/>
<rect x="580.78" y="217.00" width="0.8" height="16.75" fill="#089981"/>
<rect x="579.68" y="226.25" width="3" height="6.25" fill="#089981"/>
<rect x="584.68" y="177.50" width="0.8" height="50.50" fill="#089981"/>
<rect x="583.58" y="194.50" width="3" height="31.75" fill="#089981"/>
<rect x="588.57" y="172.50" width="0.8" height="33.00" fill="#f23645"/>
<rect x="587.47" y="194.50" width="3" height="4.25" fill="#f23645"/>
<rect x="592.47" y="161.25" width="0.8" height="38.75" fill="#089981"/>
<rect x="591.37" y="168.00" width="3" height="30.75" fill="#089981"/>
<rect x="596.36" y="164.50" width="0.8" height="50.00" fill="#f23645"/>
<rect x="595.26" y="167.50" width="3" height="28.00" fill="#f23645"/>
<rect x="600.26" y="197.50" width="0.8" height="47.00" fill="#f23645"/>
<rect x="599.16" y="201.25" width="3" height="38.75" fill="#f23645"/>
<rect x="604.16" y="223.75" width="0.8" height="31.25" fill="#f23645"/>
<rect x="603.06" y="239.50" width="3" height="10.50" fill="#f23645"/>
<rect x="608.05" y="228.75" width="0.8" height="39.75" fill="#f23645"/>
<rect x="606.95" y="248.75" width="3" height="3.75" fill="#f23645"/>
<rect x="611.95" y="248.00" width="0.8" height="37.00" fill="#f23645"/>
<rect x="610.85" y="251.25" width="3" height="26.15" fill="#f23645"/>
<rect x="615.85" y="251.25" width="0.8" height="33.25" fill="#089981"/>
<rect x="614.75" y="268.30" width="3" height="9.10" fill="#089981"/>
<rect x="619.74" y="264.60" width="0.8" height="33.40" fill="#f23645"/>
<rect x="618.64" y="272.00" width="3" height="19.00" fill="#f23645"/>
<rect x="623.64" y="287.60" width="0.8" height="68.40" fill="#f23645"/>
<rect x="622.54" y="289.80" width="3" height="24.90" fill="#f23645"/>
<rect x="627.54" y="305.70" width="0.8" height="12.80" fill="#089981"/>
<rect x="626.44" y="307.00" width="3" height="7.70" fill="#089981"/>
</g>
<g fill="#131722" font-size="9" stroke="#131722" stroke-width="0.15">
<text x="674.1" y="6.80" textLength="27" lengthAdjust="spacingAndGlyphs">1.39500</text>
<text x="674.1" y="37.70" textLength="27" lengthAdjust="spacingAndGlyphs">1.39000</text>
<text x="674.1" y="68.60" textLength="27" lengthAdjust="spacingAndGlyphs">1.38500</text>
<text x="674.1" y="99.50" textLength="27" lengthAdjust="spacingAndGlyphs">1.38000</text>
<text x="674.1" y="130.40" textLength="27" lengthAdjust="spacingAndGlyphs">1.37500</text>
<text x="674.1" y="161.30" textLength="27" lengthAdjust="spacingAndGlyphs">1.37000</text>
<text x="674.1" y="192.20" textLength="27" lengthAdjust="spacingAndGlyphs">1.36500</text>
<text x="674.1" y="223.10" textLength="27" lengthAdjust="spacingAndGlyphs">1.36000</text>
<text x="674.1" y="254.00" textLength="27" lengthAdjust="spacingAndGlyphs">1.35500</text>
<text x="674.1" y="284.90" textLength="27" lengthAdjust="spacingAndGlyphs">1.35000</text>
<text x="674.1" y="315.80" textLength="27" lengthAdjust="spacingAndGlyphs">1.34500</text>
<text x="674.1" y="346.70" textLength="27" lengthAdjust="spacingAndGlyphs">1.34000</text>
<text x="674.1" y="377.60" textLength="27" lengthAdjust="spacingAndGlyphs">1.33500</text>
<text x="674.1" y="408.50" textLength="27" lengthAdjust="spacingAndGlyphs">1.33000</text>
<text x="674.1" y="439.40" textLength="27" lengthAdjust="spacingAndGlyphs">1.32500</text>
<text x="674.1" y="470.30" textLength="27" lengthAdjust="spacingAndGlyphs">1.32000</text>
<text x="674.1" y="501.20" textLength="27" lengthAdjust="spacingAndGlyphs">1.31500</text>
<text x="674.1" y="532.10" textLength="27" lengthAdjust="spacingAndGlyphs">1.31000</text>
<text x="674.1" y="563.00" textLength="27" lengthAdjust="spacingAndGlyphs">1.30500</text>
</g>
<rect x="668.5" y="301.2" width="38.4" height="21.1" rx="1.2" fill="#089981"/>
<text x="674.1" y="310.1" font-size="9" fill="#fff" stroke="#fff" stroke-width="0.15" textLength="27" lengthAdjust="spacingAndGlyphs">1.34598</text>
<text x="674.1" y="319.7" font-size="9" fill="#d9f0eb" textLength="29.3" lengthAdjust="spacingAndGlyphs">17:58:18</text>
<rect x="668.4" y="569.3" width="36.1" height="11.4" rx="1.2" fill="#26a69a"/>
<text x="674.1" y="577.8" font-size="9" fill="#fff" stroke="#fff" stroke-width="0.15" textLength="27" lengthAdjust="spacingAndGlyphs">21.355K</text>
<g fill="#131722" font-size="9" text-anchor="middle" stroke="#131722" stroke-width="0.3">
<text x="62.94" y="592.5" textLength="12.3" lengthAdjust="spacingAndGlyphs">Mar</text>
<text x="152.56" y="592.5" textLength="12.7" lengthAdjust="spacingAndGlyphs">Apr</text>
<text x="230.49" y="592.5" textLength="13.9" lengthAdjust="spacingAndGlyphs">May</text>
<text x="320.11" y="592.5" textLength="12.7" lengthAdjust="spacingAndGlyphs">Jun</text>
<text x="405.84" y="592.5" textLength="11.4" lengthAdjust="spacingAndGlyphs">Jul</text>
<text x="487.66" y="592.5" textLength="13.9" lengthAdjust="spacingAndGlyphs">Aug</text>
<text x="577.28" y="592.5" textLength="13.5" lengthAdjust="spacingAndGlyphs">Sep</text>
<text x="659.11" y="592.5" textLength="11.8" lengthAdjust="spacingAndGlyphs">Oct</text>
</g>
<polygon points="694.40,591.00 692.05,595.07 687.35,595.07 685.00,591.00 687.35,586.93 692.05,586.93" fill="none" stroke="#131722" stroke-width="0.8"/>
<circle cx="689.7" cy="591" r="1.4" fill="none" stroke="#131722" stroke-width="0.8"/>
<circle cx="627.9" cy="554.8" r="6.2" fill="#fff" stroke="#9c27b0" stroke-width="0.9"/>
<path d="M630.3 551.3 L625.3 555.7 L627.6 555.7 L625.6 558.6 L630.6 554.1 L628.3 554.1 Z" fill="#9c27b0"/>
<circle cx="627.9" cy="571.6" r="6.2" fill="#fff" stroke="#f23645" stroke-width="0.9"/>
<clipPath id="fc"><circle cx="627.9" cy="571.6" r="5"/></clipPath>
<g clip-path="url(#fc)"><rect x="622" y="566" width="12" height="12" fill="#fff"/>
<rect x="622" y="568.30" width="12" height="1.00" fill="#f2505c"/>
<rect x="622" y="570.60" width="12" height="1.20" fill="#f2505c"/>
<rect x="622" y="574.40" width="12" height="1.90" fill="#f2505c"/>
<rect x="622" y="566" width="7" height="7" fill="#5b9bf0"/></g>
<clipPath id="f1"><circle cx="9.9" cy="12.7" r="4.1"/></clipPath>
<g clip-path="url(#f1)"><rect x="5" y="8" width="10" height="10" fill="#fff"/>
<rect x="5" y="9.40" width="10" height="0.80" fill="#ee4b57"/>
<rect x="5" y="11.20" width="10" height="0.90" fill="#ee4b57"/>
<rect x="5" y="12.90" width="10" height="0.90" fill="#ee4b57"/>
<rect x="5" y="15.00" width="10" height="1.30" fill="#ee4b57"/>
<rect x="5" y="8" width="5.6" height="5.8" fill="#4f9ceb"/></g>
<circle cx="14.4" cy="8.7" r="3.9" fill="#fff"/>
<clipPath id="f2"><circle cx="14.4" cy="8.7" r="3.6"/></clipPath>
<g clip-path="url(#f2)"><rect x="10" y="4" width="9" height="10" fill="#fff"/><rect x="10" y="4" width="2.1" height="10" fill="#f0555f"/><rect x="16.3" y="4" width="3" height="10" fill="#f0555f"/><path d="M14.3 6.9 L15.3 8.3 L14.9 9.6 L13.7 9.6 L13.3 8.3 Z" fill="#ee4b57"/></g>
<g font-size="10.4" fill="#131722" stroke="#131722" stroke-width="0.2">
<text x="20.35" y="14.8" textLength="17.45" lengthAdjust="spacingAndGlyphs">U.S.</text>
<text x="43.20" y="14.8" textLength="25.80" lengthAdjust="spacingAndGlyphs">Dollar</text>
<text x="74.60" y="14.8" textLength="3.50" lengthAdjust="spacingAndGlyphs">/</text>
<text x="82.30" y="14.8" textLength="43.50" lengthAdjust="spacingAndGlyphs">Canadian</text>
<text x="129.00" y="14.8" textLength="25.00" lengthAdjust="spacingAndGlyphs">Dollar</text>
<text x="162.40" y="14.8" textLength="11.30" lengthAdjust="spacingAndGlyphs">1D</text>
<text x="183.00" y="14.8" textLength="24.50" lengthAdjust="spacingAndGlyphs">FXCM</text>
<text x="158.9" y="14.8" text-anchor="middle">·</text><text x="178.6" y="14.8" text-anchor="middle">·</text>
</g>
<clipPath id="pl"><rect x="217.7" y="5.3" width="25.4" height="10.7" rx="5.35"/></clipPath>
<g clip-path="url(#pl)"><rect x="217" y="5" width="13" height="12" fill="#dff2ee"/><rect x="230" y="5" width="14" height="12" fill="#fbdbe6"/></g>
<circle cx="224.6" cy="10.7" r="2.5" fill="#089981"/>
<text x="236.4" y="14" font-size="10" fill="#e91e63" text-anchor="middle" font-weight="bold" textLength="6.6" lengthAdjust="spacingAndGlyphs">≈</text>
<text x="253.60" y="14" font-size="9" fill="#131722" stroke="#131722" stroke-width="0.25" textLength="5.0" lengthAdjust="spacingAndGlyphs">O</text>
<text x="260.20" y="14" font-size="9" fill="#089981" textLength="28.8" lengthAdjust="spacingAndGlyphs">1.34473</text>
<text x="293.70" y="14" font-size="9" fill="#131722" stroke="#131722" stroke-width="0.25" textLength="5.1" lengthAdjust="spacingAndGlyphs">H</text>
<text x="300.20" y="14" font-size="9" fill="#089981" textLength="28.8" lengthAdjust="spacingAndGlyphs">1.34618</text>
<text x="333.30" y="14" font-size="9" fill="#131722" stroke="#131722" stroke-width="0.25" textLength="3.8" lengthAdjust="spacingAndGlyphs">L</text>
<text x="338.20" y="14" font-size="9" fill="#089981" textLength="28.8" lengthAdjust="spacingAndGlyphs">1.34402</text>
<text x="371.60" y="14" font-size="9" fill="#131722" stroke="#131722" stroke-width="0.25" textLength="4.7" lengthAdjust="spacingAndGlyphs">C</text>
<text x="377.30" y="14" font-size="9" fill="#089981" textLength="28.8" lengthAdjust="spacingAndGlyphs">1.34598</text>
<text x="411.8" y="14" font-size="9" fill="#089981" textLength="67.7" lengthAdjust="spacingAndGlyphs">+0.00125 (+0.09%)</text>
<rect x="5.6" y="22.5" width="38.8" height="15.7" rx="2.4" fill="#fff" stroke="#f37f89" stroke-width="0.9"/>
<text x="11" y="33.3" font-size="9.8" fill="#f23645" textLength="25.3" lengthAdjust="spacingAndGlyphs">1.3459</text>
<text x="36.6" y="31.5" font-size="6.3" fill="#f23645">7</text>
<text x="49.9" y="33.3" font-size="9.8" fill="#131722" stroke="#131722" stroke-width="0.15" textLength="9.8" lengthAdjust="spacingAndGlyphs">0.3</text>
<rect x="65.4" y="22.5" width="38.8" height="15.7" rx="2.4" fill="#fff" stroke="#7d9bf5" stroke-width="0.9"/>
<text x="71.1" y="33.3" font-size="9.8" fill="#2962ff" textLength="25.1" lengthAdjust="spacingAndGlyphs">1.3460</text>
<text x="96.5" y="31.5" font-size="6.3" fill="#2962ff">0</text>
<text x="6" y="52.5" font-size="9.8" fill="#131722" stroke="#131722" stroke-width="0.15" textLength="10.9" lengthAdjust="spacingAndGlyphs">Vol</text>
<text x="22.7" y="52.5" font-size="9.8" fill="#3aae9f" textLength="29.8" lengthAdjust="spacingAndGlyphs">21.355K</text>
<rect x="6.6" y="59.4" width="17.8" height="13.1" rx="2" fill="#fff" stroke="#e0e3eb" stroke-width="0.8"/>
<path d="M12.6 67.6 L15.5 64.8 L18.4 67.6" fill="none" stroke="#131722" stroke-width="1.05"/>
<g transform="translate(8.0,558.75) scale(0.518,0.55)" fill="#131722" stroke="#fff" stroke-width="3" paint-order="stroke" stroke-linejoin="round"><path d="M14 22H7V11H0V4h14z"/><circle cx="20" cy="8" r="4"/><path d="M28 22h-8l7.5-18h8z"/></g>
<text x="32.2" y="570.8" font-size="13.4" fill="#fff" stroke="#fff" stroke-width="2.2" stroke-linejoin="round" textLength="78.8" lengthAdjust="spacingAndGlyphs">TradingView</text>
<text x="32.2" y="570.8" font-size="13.4" fill="#131722" stroke="#131722" stroke-width="0.55" textLength="78.8" lengthAdjust="spacingAndGlyphs">TradingView</text>
</svg></body></html>
